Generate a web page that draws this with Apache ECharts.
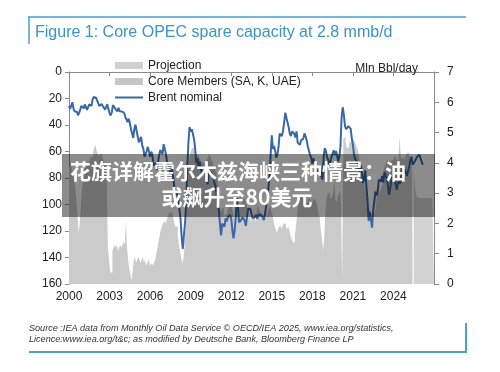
<!DOCTYPE html>
<html><head><meta charset="utf-8">
<script src="https://cdn.jsdelivr.net/npm/echarts@6/dist/echarts.min.js"></script>
<style>html,body{margin:0;padding:0;background:#fff}#c{width:500px;height:372px}</style>
</head><body><div id="c"></div>
<script>
// Monthly data, first value = January of the start year
const brentStart = 2000;
const brentNominal = [
25.5,27.8,27.5,22.8,27.6,29.8,28.6,30.0,32.6,31.0,32.4,25.5,
25.6,27.5,24.5,25.6,28.5,27.7,24.5,25.7,25.6,20.5,18.9,18.6,
19.4,20.3,23.7,25.7,25.4,24.1,25.7,26.6,28.4,27.5,24.3,28.0,
31.2,32.8,30.4,25.0,25.8,27.6,28.4,29.8,27.1,29.6,28.8,29.8,
31.2,30.9,33.8,33.4,37.9,35.2,38.4,43.0,43.4,49.8,43.1,39.7,
44.3,45.5,53.1,51.9,49.0,55.6,57.9,63.9,63.5,59.7,56.5,57.6,
63.9,60.1,62.3,70.4,70.8,68.9,73.9,73.6,62.8,58.9,59.1,62.0,
54.5,57.8,62.1,67.4,67.5,71.3,77.2,70.8,77.1,82.9,92.5,91.5,
92.2,94.8,103.3,110.4,124.6,133.5,133.9,113.9,99.1,72.8,53.2,41.6,
44.9,43.2,46.8,50.8,57.9,68.6,64.9,72.5,67.7,73.2,77.0,74.7,
76.2,73.8,78.8,84.8,75.9,74.8,75.6,77.1,78.4,83.5,86.2,92.0,
96.5,103.7,114.6,123.3,114.5,113.9,116.7,110.4,112.8,109.6,110.5,107.9,
110.7,119.3,125.5,119.8,110.3,95.2,102.6,113.4,113.0,111.5,109.5,109.2,
112.3,116.1,109.5,103.3,103.3,103.3,107.4,110.3,111.2,109.5,107.8,110.8,
108.1,108.9,107.5,107.8,109.5,111.8,106.8,101.6,97.1,87.4,79.4,62.3,
47.8,58.1,55.9,59.5,64.6,62.3,56.5,46.5,47.6,48.4,44.3,38.0,
30.7,32.2,38.2,41.6,46.7,48.3,44.9,45.8,46.6,49.5,44.8,53.3,
54.6,55.0,51.6,52.3,50.3,46.4,48.5,51.7,56.2,57.5,62.7,64.4,
69.1,65.3,66.0,72.1,76.9,74.4,74.3,72.5,78.9,81.0,64.7,57.4,
59.4,64.0,66.1,71.2,71.3,64.2,63.9,59.0,62.8,59.7,63.2,67.3,
63.7,55.7,33.7,26.6,32.4,40.8,43.2,44.7,40.9,40.2,42.7,49.9,
54.8,62.3,65.4,64.8,68.5,73.2,75.2,70.8,74.5,83.7,81.1,74.2,
86.5,97.1,112.5,105.8,111.5,117.5,105.1,97.7,90.2,93.1,90.9,81.3,
82.5,82.6,78.4,83.4,75.5,74.8,80.1,85.2,92.6,88.7,82.0,77.6,
79.1,81.7,84.7,89.0,82.9,82.6,84.0,78.9,73.0,75.4,73.4,73.6,
78.4,74.9,71.5,66.5,64.0,69.9,69.5,67.3,67.6,64.0,63.6,62.5,
63.0,67.5,70.0
];
const coreStart = 2000;
const coreMembersSpare = [
3.8,3.9,4.0,3.8,3.6,3.4,3.2,2.8,2.3,1.7,2.0,2.6,
3.1,3.5,3.8,4.0,4.0,4.1,4.0,4.1,4.2,4.2,4.4,4.5,
4.6,4.4,4.3,4.2,4.3,4.3,4.2,4.1,4.0,3.8,3.4,1.2,
0.8,0.4,0.36,1.1,1.2,1.3,1.2,1.3,1.1,1.2,1.3,1.2,
1.3,1.4,1.3,2.1,1.2,0.8,0.5,0.3,0.13,0.4,0.8,0.9,
0.7,0.8,0.9,0.8,0.7,0.8,0.9,0.7,0.8,0.6,0.7,0.8,
0.7,0.6,0.7,0.6,0.7,0.8,1.0,1.2,1.4,1.6,1.8,1.9,
2.0,2.1,2.0,2.1,2.2,2.3,2.4,2.3,2.4,2.2,2.0,1.9,
1.9,1.6,1.3,1.1,0.9,0.7,0.8,1.2,1.8,2.6,3.4,4.0,
4.3,4.4,4.5,4.5,4.4,4.3,4.2,4.3,4.2,4.1,4.0,4.0,
4.0,3.9,4.0,4.1,4.2,4.3,4.2,4.1,4.0,3.9,3.8,3.7,
3.5,3.2,2.6,2.4,2.5,2.5,2.2,2.3,2.3,2.4,2.5,2.6,
2.6,2.5,2.3,2.2,2.2,2.3,2.4,2.5,2.6,2.6,2.7,2.8,
2.8,2.7,2.6,2.5,2.1,2.3,2.0,2.3,2.1,2.5,2.0,2.4,
2.6,2.5,2.4,2.3,2.3,2.2,2.1,2.2,2.3,2.4,2.5,2.6,
2.4,2.3,2.1,1.9,1.8,1.7,1.8,1.9,1.9,1.8,1.9,2.0,
2.0,1.9,1.8,1.9,1.8,1.6,1.5,1.4,1.35,1.6,1.9,2.3,
2.6,2.8,2.9,2.9,2.8,2.8,2.7,2.6,2.7,2.8,2.8,2.7,
2.7,2.8,2.8,2.8,2.7,2.6,2.3,2.2,1.8,1.5,1.1,1.5,
2.3,2.8,3.0,3.0,2.9,2.8,2.9,3.0,3.5,2.8,2.7,2.9,
3.0,3.1,2.6,0.0,4.8,4.85,4.7,4.5,4.5,4.6,4.7,4.7,
4.7,4.8,4.7,4.6,4.5,4.4,4.2,4.0,3.8,3.6,3.4,3.2,
3.0,2.8,2.6,2.5,2.4,2.3,2.3,2.4,2.3,2.6,3.0,3.0,
3.0,3.1,3.2,3.3,3.8,3.9,4.0,4.1,4.0,4.1,4.0,4.1,
4.1,4.2,4.2,4.1,4.1,4.2,4.85,4.2,4.1,4.2,4.1,4.2,
4.3,4.35,4.3,4.2,4.0,3.8
];
const projectionStartYear = 2025, projectionStartMonth = 7;
const projectionSpare = [3.9,3.5,3.1,2.9,2.84,2.84,2.84,2.84,2.84,2.84,2.84,2.84,2.84,2.84,2.84,2.84,2.84,2.84,2.84];
const leftTicks = {min:0, max:160, step:20};
const rightTicks = {min:0, max:7, step:1};
const xRange = {min:2000, max:2027, step:3};

const toXY = (arr, y0, m0) => arr.map((v,i)=>[y0 + (m0 - 1 + i)/12, v]);

const chart = echarts.init(document.getElementById('c'), null, {renderer:'canvas'});
const FONT = 'Liberation Sans';
const axisLineStyle = {color:'#8a8a8a', width:1};
chart.setOption({
  animation:false,
  backgroundColor:'#ffffff',
  textStyle:{fontFamily:FONT},
  grid:{left:69, right:66, top:72, bottom:88},
  legend:{
    orient:'vertical', left:110, top:54.5, itemWidth:28, itemHeight:7, itemGap:4,
    textStyle:{fontSize:12, color:'#222', fontFamily:FONT},
    data:[{name:'Projection', icon:'rect'},{name:'Core Members (SA, K, UAE)', icon:'rect'},
          {name:'Brent nominal', icon:'path://M0,0H28V2H0Z'}]
  },
  xAxis:{
    type:'value', min:xRange.min, max:xRange.max, interval:xRange.step,
    axisLine:{lineStyle:axisLineStyle}, axisTick:{length:4, lineStyle:axisLineStyle},
    splitLine:{show:false},
    axisLabel:{fontSize:12, color:'#222', margin:7, formatter:v=> v===xRange.max ? '' : String(v)}
  },
  yAxis:[
    {type:'value', position:'left', inverse:true, min:leftTicks.min, max:leftTicks.max, interval:leftTicks.step,
     axisLine:{show:true, lineStyle:axisLineStyle}, axisTick:{show:true, length:4, lineStyle:axisLineStyle},
     splitLine:{show:false}, axisLabel:{fontSize:12, color:'#222', margin:7}},
    {type:'value', position:'right', min:rightTicks.min, max:rightTicks.max, interval:rightTicks.step,
     axisLine:{show:true, lineStyle:axisLineStyle}, axisTick:{show:true, length:5, lineStyle:axisLineStyle},
     splitLine:{show:false}, axisLabel:{fontSize:12, color:'#222', margin:13}}
  ],
  series:[
    {name:'Core Members (SA, K, UAE)', type:'line', yAxisIndex:1, step:'middle', symbol:'none',
     data:toXY(coreMembersSpare, coreStart, 1),
     itemStyle:{color:'#c6c6c6'}, lineStyle:{width:0, color:'#c6c6c6'}, areaStyle:{color:'#cbcbcb', opacity:1}, z:1},
    {name:'Projection', type:'line', yAxisIndex:1, step:'middle', symbol:'none',
     data:toXY(projectionSpare, projectionStartYear, projectionStartMonth),
     itemStyle:{color:'#d0d0d0'}, lineStyle:{width:0, color:'#d0d0d0'}, areaStyle:{color:'#d2d2d2', opacity:1}, z:1},
    {name:'Brent nominal', type:'line', yAxisIndex:0, symbol:'none',
     data:toXY(brentNominal, brentStart, 1),
     itemStyle:{color:'#3a68a6'}, lineStyle:{width:2, color:'#3a68a6'}, z:3}
  ],
  graphic:[
    {type:'line', shape:{x1:28, y1:17, x2:466, y2:17}, style:{stroke:'#4a9ed0', lineWidth:1.5}, z:50},
    {type:'line', shape:{x1:29, y1:17, x2:29, y2:44}, style:{stroke:'#4a9ed0', lineWidth:1.5}, z:50},
    {type:'text', x:35, y:33, style:{text:'Figure 1: Core OPEC spare capacity at 2.8 mmb/d', fill:'#3d93c6', font:'16px "Liberation Sans"', textVerticalAlign:'middle'}, z:50},
    {type:'text', x:418, y:69, style:{text:'Mln Bbl/day', fill:'#222', font:'12px "Liberation Sans"', textAlign:'right', textVerticalAlign:'middle'}, z:50},
    {type:'text', x:29, y:328, style:{text:'Source :IEA data from Monthly Oil Data Service © OECD/IEA 2025, www.iea.org/statistics,', fill:'#333', font:'italic 9.1px "Liberation Sans"', textVerticalAlign:'middle'}, z:50},
    {type:'text', x:29, y:339, style:{text:'Licence:www.iea.org/t&c; as modified by Deutsche Bank, Bloomberg Finance LP', fill:'#333', font:'italic 9.1px "Liberation Sans"', textVerticalAlign:'middle'}, z:50},
    {type:'line', shape:{x1:29, y1:352, x2:467, y2:352}, style:{stroke:'#4a9ed0', lineWidth:2}, z:50},
    {type:'line', shape:{x1:466, y1:323, x2:466, y2:352}, style:{stroke:'#4a9ed0', lineWidth:2}, z:50},
    {type:'rect', shape:{x:62, y:154, width:373, height:63}, style:{fill:'rgba(0,0,0,0.45)'}, z:100},
    {type:'text', x:238, y:171, style:{text:'花旗详解霍尔木兹海峡三种情景：油', fill:'#fff', font:'bold 21px "Noto Sans CJK SC"', textAlign:'center', textVerticalAlign:'middle'}, z:101},
    {type:'text', x:237, y:197, style:{text:'或飙升至80美元', fill:'#fff', font:'bold 21px "Noto Sans CJK SC"', textAlign:'center', textVerticalAlign:'middle'}, z:101}
  ]
});
</script></body></html>
